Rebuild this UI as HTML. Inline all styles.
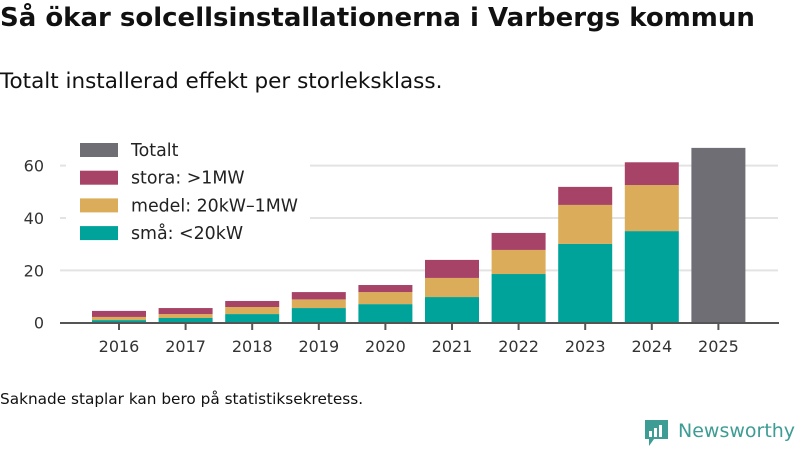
<!DOCTYPE html>
<html><head><meta charset="utf-8"><style>
body{margin:0;width:800px;height:450px;background:#fff;font-family:"DejaVu Sans","Liberation Sans",sans-serif;overflow:hidden;position:relative;color:#111}
.t{position:absolute;white-space:nowrap}
</style></head><body>
<div class="t" style="left:0;top:3px;font-size:26px;font-weight:bold">Så ökar solcellsinstallationerna i Varbergs kommun</div>
<div class="t" style="left:0;top:69px;font-size:21.5px">Totalt installerad effekt per storleksklass.</div>
<svg id="chart" width="800" height="450" style="position:absolute;left:0;top:0"></svg>
<div class="t" style="left:0;top:390px;font-size:15.3px">Saknade staplar kan bero på statistiksekretess.</div>
<div style="position:absolute;left:645px;top:420px;">
<svg width="24" height="28" style="position:absolute;left:0;top:0"><path d="M0 0H23V19H9L4 26V19H0Z" fill="#3d9c94"/><rect x="4" y="11" width="3" height="6" fill="#fff"/><rect x="9" y="8" width="3" height="9" fill="#fff"/><rect x="14" y="5" width="3" height="12" fill="#fff"/></svg>
<div class="t" style="left:33px;top:0px;font-size:19px;color:#3d9c94">Newsworthy</div></div>
<script>
const years=["2016","2017","2018","2019","2020","2021","2022","2023","2024","2025"];
const sma=[1.0,1.8,3.3,5.6,7.1,9.8,18.6,30.1,35.0,null];
const medel=[1.2,1.5,2.7,3.3,4.6,7.3,9.2,14.9,17.6,null];
const stora=[2.3,2.3,2.3,2.8,2.7,6.9,6.5,6.9,8.7,null];
const totalt=[null,null,null,null,null,null,null,null,null,66.8];
const yTicks=[0,20,40,60];
const NS="http://www.w3.org/2000/svg",svg=document.getElementById("chart");
const y=v=>322.7-v*2.617, x=i=>119+i*66.6, bw=54;
function el(t,a){const e=document.createElementNS(NS,t);for(const k in a)e.setAttribute(k,a[k]);svg.appendChild(e);return e;}
yTicks.forEach(v=>{if(v>0){const g=el("line",{x1:60,x2:778,y1:y(v),y2:y(v),stroke:"#e3e3e3","stroke-width":2});

}
const t=el("text",{x:44,y:y(v)+6,"text-anchor":"end","font-size":16,fill:"#333","font-family":"DejaVu Sans, sans-serif"});t.textContent=v;

});
const series=[[sma,"#00a39a","bar-sma"],[medel,"#dbac5a","bar-medel"],[stora,"#a84368","bar-stora"],[totalt,"#6f6e74","bar-totalt"]];
years.forEach((yr,i)=>{let base=0;series.forEach(([arr,c,n])=>{const v=arr[i];if(v==null)return;
const r=el("rect",{x:x(i)-bw/2,y:y(base+v),width:bw,height:y(base)-y(base+v),fill:c});


base+=v;});
const tk=el("line",{x1:x(i),x2:x(i),y1:323,y2:330,stroke:"#555","stroke-width":2});


const t=el("text",{x:x(i),y:352,"text-anchor":"middle","font-size":16,fill:"#333","font-family":"DejaVu Sans, sans-serif"});t.textContent=yr;

});
const ax=el("line",{x1:60,x2:779,y1:323,y2:323,stroke:"#555","stroke-width":2});


const lb=el("rect",{x:66,y:136,width:244,height:112,fill:"#fff"});


const leg=[["Totalt","#6f6e74"],["stora: >1MW","#a84368"],["medel: 20kW–1MW","#dbac5a"],["små: <20kW","#00a39a"]];
leg.forEach(([l,c],k)=>{const cy=150+k*27.7;
const s=el("rect",{x:80,y:cy-7,width:38,height:14,fill:c});


const t=el("text",{x:131,y:cy+6,"font-size":17.4,fill:"#222","font-family":"DejaVu Sans, sans-serif"});t.textContent=l;

});
</script>
</body></html>
